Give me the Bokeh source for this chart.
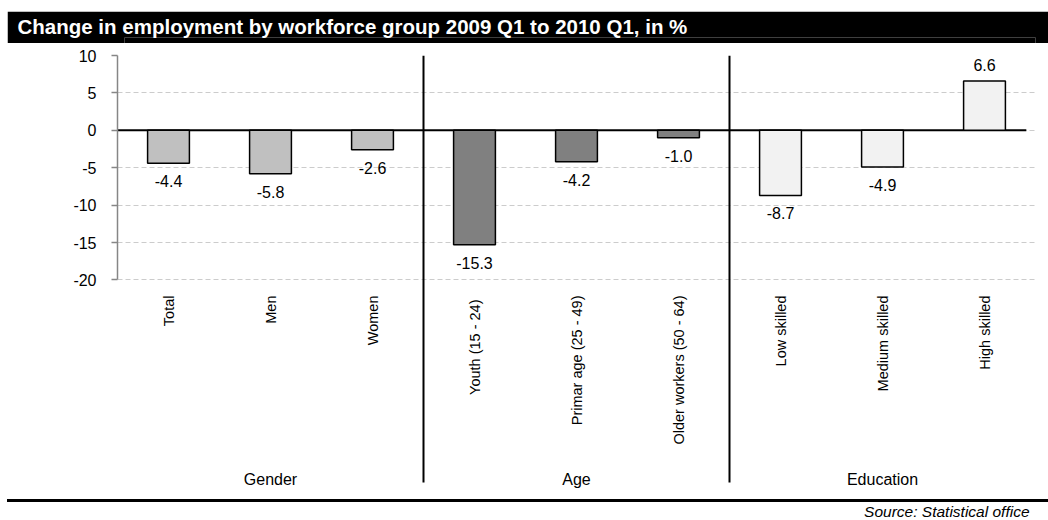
from bokeh.plotting import figure
from bokeh.layouts import column
from bokeh.models import Range1d, FixedTicker, ColumnDataSource, Spacer
from bokeh.core.properties import value
from bokeh.embed import file_html
from bokeh.resources import INLINE
import math

# ---------------- data ----------------
title_text = "Change in employment by workforce group 2009 Q1 to 2010 Q1, in %"
categories = ["Total", "Men", "Women",
              "Youth  (15 - 24)", "Primar age (25 - 49)", "Older workers (50 - 64)",
              "Low skilled", "Medium skilled", "High skilled"]
values = [-4.4, -5.8, -2.6, -15.3, -4.2, -1.0, -8.7, -4.9, 6.6]
groups = ["Gender", "Gender", "Gender", "Age", "Age", "Age",
          "Education", "Education", "Education"]
group_names = ["Gender", "Age", "Education"]
group_colors = {"Gender": "#c0c0c0", "Age": "#808080", "Education": "#f2f2f2"}
y_ticks = [-20, -15, -10, -5, 0, 5, 10]
y_tick_labels = ["-20", "-15", "-10", "-5", "0", "5", "10"]
source_text = "Source: Statistical office"

FONT = "Liberation Sans"
W = 1048
FRAME_L, FRAME_R = 117, 1035          # page px of the chart frame
BAR_L = 7                              # left edge of title bar / bottom rule

def strip(height, width):
    f = figure(width=width, height=height, toolbar_location=None, output_backend="svg",
               x_axis_type=None, y_axis_type=None,
               min_border_left=FRAME_L - (W - width), min_border_right=W - FRAME_R,
               min_border_top=0, min_border_bottom=0)
    f.outline_line_color = None
    f.grid.visible = False
    return f

# ---------------- title bar ----------------
tb = strip(32, W - BAR_L)
tb.align = "end"
tb.background_fill_color = "black"
tb.border_fill_color = "black"
tb.min_border_top = 26
tb.title.text = title_text
tb.title.align = "left"
tb.title.offset = 10 - FRAME_L
tb.title.standoff = 0
tb.title.text_color = "white"
tb.title.text_font = FONT
tb.title.text_font_style = "bold"
tb.title.text_font_size = "20.5px"

# ---------------- main chart ----------------
MAIN_TOP = 43
FRAME_T, FRAME_B = 55, 488
MAIN_BOTTOM = 499
PX_PER_UNIT = 7.48
YMAX = 10
def py(page_y):
    return YMAX - (page_y - FRAME_T) / PX_PER_UNIT

p = figure(width=W, height=MAIN_BOTTOM - MAIN_TOP,
           x_range=Range1d(0, len(categories)), y_range=Range1d(py(FRAME_B), YMAX),
           toolbar_location=None, output_backend="svg",
           min_border_left=FRAME_L, min_border_right=W - FRAME_R,
           min_border_top=FRAME_T - MAIN_TOP, min_border_bottom=MAIN_BOTTOM - FRAME_B,
           x_axis_type=None)
p.outline_line_color = None
p.background_fill_color = "white"
p.border_fill_color = "white"

ax = p.yaxis[0]
ax.ticker = FixedTicker(ticks=y_ticks)
ax.major_label_overrides = {t: l for t, l in zip(y_ticks, y_tick_labels)}
ax.bounds = (min(y_ticks), max(y_ticks))
ax.axis_line_color = "#868686"
ax.axis_line_width = 1.5
ax.major_tick_line_color = "#868686"
ax.major_tick_line_width = 1.5
ax.major_tick_out = 6
ax.major_tick_in = 0
ax.minor_tick_line_color = None
ax.major_label_text_font = FONT
ax.major_label_text_font_size = "16px"
ax.major_label_text_color = "black"
ax.major_label_standoff = 15

p.ygrid.grid_line_color = "#cccccc"
p.ygrid.grid_line_dash = "5 3"
p.ygrid.grid_line_width = 1
p.xgrid.visible = False

xs = [i + 0.5 for i in range(len(categories))]
colors = [group_colors[g] for g in groups]
labels = ["%.1f" % v for v in values]
src = ColumnDataSource(dict(x=xs, top=values, color=colors, cat=categories, lab=labels))

# zero line
p.segment(x0=[0], y0=[0], x1=[len(categories) - 0.09], y1=[0], line_color="black", line_width=2)

# bars
p.vbar(x="x", top="top", bottom=0, width=0.41, fill_color="color",
       line_color="black", line_width=1.5, source=src)

# separators between groups
sep_x = [3, 6]
p.segment(x0=sep_x, y0=[YMAX] * 2, x1=sep_x, y1=[py(482)] * 2, line_color="black", line_width=2)

# value labels
neg = ColumnDataSource(dict(x=[x for x, v in zip(xs, values) if v < 0],
                            y=[v for v in values if v < 0],
                            t=[l for l, v in zip(labels, values) if v < 0]))
pos = ColumnDataSource(dict(x=[x for x, v in zip(xs, values) if v >= 0],
                            y=[v for v in values if v >= 0],
                            t=[l for l, v in zip(labels, values) if v >= 0]))
p.text(x="x", y="y", text="t", source=neg, text_align="center", text_baseline="top",
       y_offset=12, text_font=value(FONT), text_font_size="16px", text_color="black")
p.text(x="x", y="y", text="t", source=pos, text_align="center", text_baseline="bottom",
       y_offset=-10, text_font=value(FONT), text_font_size="16px", text_color="black")

# category labels (rotated)
p.text(x="x", y=py(295), text="cat", source=src, angle=math.pi / 2,
       text_align="right", text_baseline="middle",
       text_font=value(FONT), text_font_size="14.5px", text_color="black")

# group labels
gx = [1.5, 4.5, 7.5]
p.text(x=gx, y=[py(479)] * 3, text=group_names, text_align="center", text_baseline="middle",
       text_font=value(FONT), text_font_size="16px", text_color="black")

# ---------------- bottom rule ----------------
rule = Spacer(width=W - BAR_L, height=3, align="end",
              styles={"background-color": "black"})

# ---------------- source line ----------------
SRC_H = 18
sb = strip(SRC_H, W)
sb.x_range = Range1d(FRAME_L, FRAME_R)
sb.y_range = Range1d(SRC_H, 0)
sb.background_fill_color = "white"
sb.border_fill_color = "white"
sb.text(x=[FRAME_R - 6], y=[9], text=[source_text], text_align="right",
        text_baseline="middle", text_font=value(FONT), text_font_style="italic",
        text_font_size="15.5px", text_color="black")

layout = column(Spacer(width=W, height=11), tb, p, rule, sb, spacing=0)
open("out.html", "w").write(file_html(layout, INLINE))
